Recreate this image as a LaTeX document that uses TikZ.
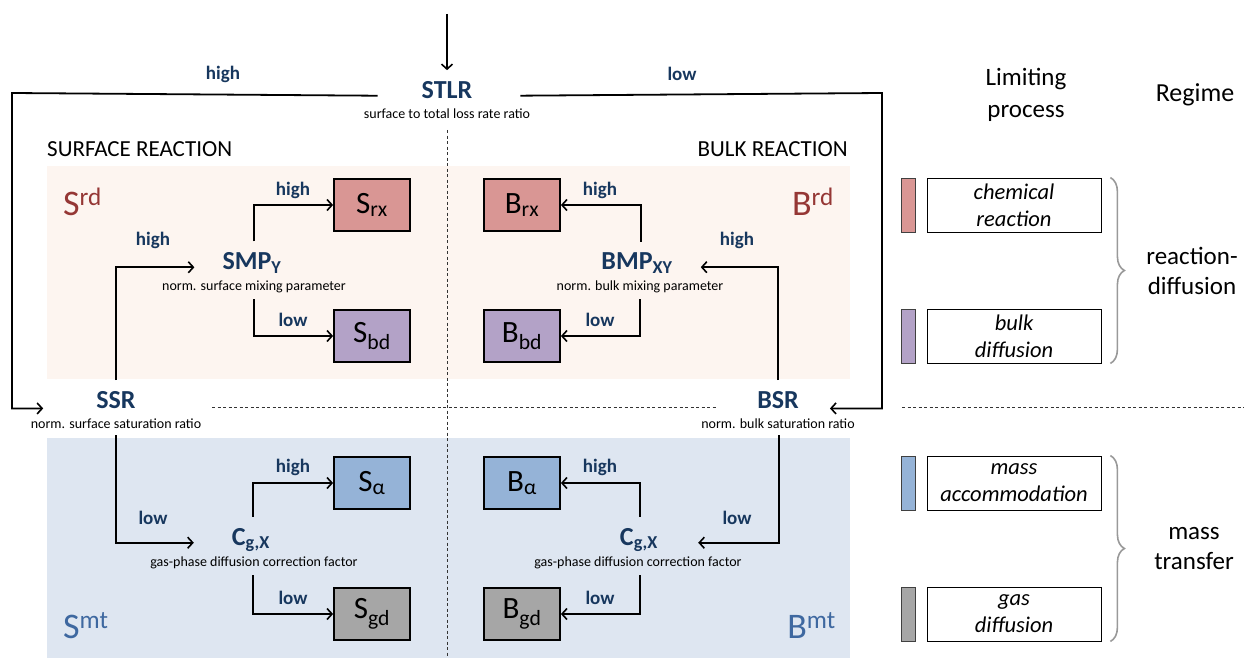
\documentclass[tikz,border=0pt]{standalone}
\usepackage{fontspec}
\setmainfont{Carlito}
\usetikzlibrary{positioning,calc,decorations.pathreplacing,arrows.meta}

\definecolor{navy}{RGB}{23,55,94}
\definecolor{rxred}{RGB}{217,150,148}
\definecolor{bdpurple}{RGB}{179,162,199}
\definecolor{alphablue}{RGB}{149,179,215}
\definecolor{gdgray}{RGB}{166,166,166}
\definecolor{rdred}{RGB}{149,55,53}
\definecolor{mtblue}{RGB}{62,104,160}
\definecolor{rdback}{RGB}{253,245,240}
\definecolor{mtback}{RGB}{222,230,241}

\tikzset{
  param/.style={font=\fontsize{26}{28}\selectfont\bfseries, text=navy, inner xsep=0pt, inner ysep=11pt},
  paramsub/.style={font=\fontsize{14}{16}\selectfont, inner xsep=0pt, inner ysep=6pt},
  choice/.style={font=\fontsize{19}{22}\selectfont\bfseries, text=navy},
  procbox/.style={draw, line width=1.8pt, minimum width=76pt, minimum height=52pt, font=\fontsize{31}{32}\selectfont},
  branch/.style={-{Straight Barb[length=5pt,width=11pt,line width=1.6pt]}, line width=1.8pt},
  regime/.style={font=\fontsize{36}{38}\selectfont, inner sep=0pt},
  heading/.style={font=\fontsize{23}{26}\selectfont, inner sep=0pt},
  procname/.style={draw, line width=0.8pt, minimum width=174pt, minimum height=54pt, align=center,
    font=\fontsize{22.5}{27}\selectfont\itshape},
  procbar/.style={draw=black!75, line width=1pt, minimum width=14pt, minimum height=54pt},
  regbrace/.style={draw=black!40, line width=1.6pt, decorate, decoration={brace, amplitude=14pt}},
  regname/.style={font=\fontsize{25}{30}\selectfont, align=center},
  divider/.style={dashed, dash pattern=on 3pt off 2.5pt, line width=0.8pt, black!80}
}

\begin{document}
\begin{tikzpicture}[x=1pt,y=-1pt]
  \useasboundingbox (0,0) rectangle (1244,658);

  % backgrounds
  \fill[rdback] (47,166) rectangle (850,379);
  \fill[mtback] (47,438) rectangle (850,658);
  \draw[divider] (447,130) -- (447,658);
  \draw[divider] (212,407) -- (716,407);
  \draw[divider] (902,407) -- (1244,407);

  % headings and regimes
  \node[heading, anchor=base west] (surfhead) at (47,157) {SURFACE REACTION};
  \node[heading, anchor=base east] (bulkhead) at (848,157) {BULK REACTION};
  \node[regime, text=rdred, anchor=base west] (srd) at (63,215) {S\textsuperscript{rd}};
  \node[regime, text=rdred, anchor=base east] (brd) at (834,215) {B\textsuperscript{rd}};
  \node[regime, text=mtblue, anchor=base west] (smt) at (63,638) {S\textsuperscript{mt}};
  \node[regime, text=mtblue, anchor=base east] (bmt) at (836,638) {B\textsuperscript{mt}};

  % top decision
  \coordinate (entry) at (447,14);
  \node[param] (stlr) at (447,90) {STLR};
  \node[paramsub] (stlrsub) at (447,114) {surface to total loss rate ratio};

  % saturation ratios
  \node[param] (ssr) at (116,400) {SSR};
  \node[paramsub] (ssrsub) at (116,424) {norm. surface saturation ratio};
  \node[param] (bsr) at (778,400) {BSR};
  \node[paramsub] (bsrsub) at (778,424) {norm. bulk saturation ratio};

  \coordinate (lcorner) at (12,93);
  \coordinate (rcorner) at (882,93);
  \draw[branch] (entry) -- (stlr.north);
  \draw[branch, shorten <=44pt] (stlr.mid west) -- (lcorner) |- ([xshift=-53pt]ssr.base west);
  \draw[branch, shorten <=48pt] (stlr.mid east) -- (rcorner) |- ([xshift=31pt]bsr.base east);
  \node[choice] (hightop) at (223,74) {high};
  \node[choice] (lowtop) at (682,74) {low};

  % mixing parameters
  \node[param] (smp) at (252,263) {SMP\textsubscript{Y}};
  \node[paramsub] (smpsub) at (254,287) {norm. surface mixing parameter};
  \node[param] (bmp) at (637,263) {BMP\textsubscript{XY}};
  \node[paramsub] (bmpsub) at (640,287) {norm. bulk mixing parameter};

  % gas-phase correction factors
  \node[param] (cgs) at (251,540) {C\textsubscript{g,X}};
  \node[paramsub] (cgssub) at (254,563) {gas-phase diffusion correction factor};
  \node[param] (cgb) at (639,540) {C\textsubscript{g,X}};
  \node[paramsub] (cgbsub) at (638,563) {gas-phase diffusion correction factor};

  % limiting processes
  \node[procbox, fill=rxred] (srx) at (372,205) {S\textsubscript{rx}};
  \node[procbox, fill=bdpurple] (sbd) at (372,336) {S\textsubscript{bd}};
  \node[procbox, fill=alphablue] (salpha) at (372,483) {S\textsubscript{α}};
  \node[procbox, fill=gdgray] (sgd) at (372,614) {S\textsubscript{gd}};
  \node[procbox, fill=rxred] (brx) at (522,205) {B\textsubscript{rx}};
  \node[procbox, fill=bdpurple] (bbd) at (522,336) {B\textsubscript{bd}};
  \node[procbox, fill=alphablue] (balpha) at (522,483) {B\textsubscript{α}};
  \node[procbox, fill=gdgray] (bgd) at (522,614) {B\textsubscript{gd}};

  % surface branches
  \draw[branch, shorten >=28pt] (ssr.north) |- (smp.mid west);
  \node[choice] at (153,240) {high};
  \draw[branch] ([xshift=2pt]smp.north) |- (srx.west);
  \node[choice] at (293,190) {high};
  \draw[branch] (smpsub.south) |- (sbd.west);
  \node[choice] at (293,320) {low};
  \draw[branch, shorten >=38pt] (ssrsub.south) |- (cgs.mid west);
  \node[choice] at (153,518) {low};
  \draw[branch] ([xshift=2pt]cgs.north) |- (salpha.west);
  \node[choice] at (293,467) {high};
  \draw[branch] ([xshift=-1pt]cgssub.south) |- (sgd.west);
  \node[choice] at (293,598) {low};

  % bulk branches
  \draw[branch, shorten >=28pt] (bsr.north) |- (bmp.mid east);
  \node[choice] at (737,240) {high};
  \draw[branch] ([xshift=4pt]bmp.north) |- (brx.east);
  \node[choice] at (600,190) {high};
  \draw[branch] (bmpsub.south) |- (bbd.east);
  \node[choice] at (600,320) {low};
  \draw[branch, shorten >=40pt] ([xshift=1pt]bsrsub.south) |- (cgb.mid east);
  \node[choice] at (737,518) {low};
  \draw[branch] ([xshift=1pt]cgb.north) |- (balpha.east);
  \node[choice] at (600,467) {high};
  \draw[branch] ([xshift=2pt]cgbsub.south) |- (bgd.east);
  \node[choice] at (600,598) {low};

  % legend
  \node[heading, font=\fontsize{25}{32}\selectfont, align=center] (limhead) at (1026,95) {Limiting\\process};
  \node[heading, font=\fontsize{26}{30}\selectfont] (reghead) at (1195,95) {Regime};
  \node[procbar, fill=rxred] (barrx) at (908,205) {};
  \node[procbar, fill=bdpurple] (barbd) at (908,336) {};
  \node[procbar, fill=alphablue] (baralpha) at (908,483) {};
  \node[procbar, fill=gdgray] (bargd) at (908,614) {};
  \node[procname] (namerx) at (1014,205) {chemical\\reaction};
  \node[procname] (namebd) at (1014,336) {bulk\\diffusion};
  \node[procname] (namealpha) at (1014,483) {mass\\accommodation};
  \node[procname] (namegd) at (1014,614) {gas\\diffusion};
  \draw[regbrace] ([xshift=9pt]namerx.north east) -- ([xshift=9pt]namebd.south east);
  \draw[regbrace] ([xshift=9pt]namealpha.north east) -- ([xshift=9pt]namegd.south east);
  \node[regname] (rdname) at (1192,271) {reaction-\\diffusion};
  \node[regname] (mtname) at (1194,549) {mass\\transfer};
\end{tikzpicture}
\end{document}
